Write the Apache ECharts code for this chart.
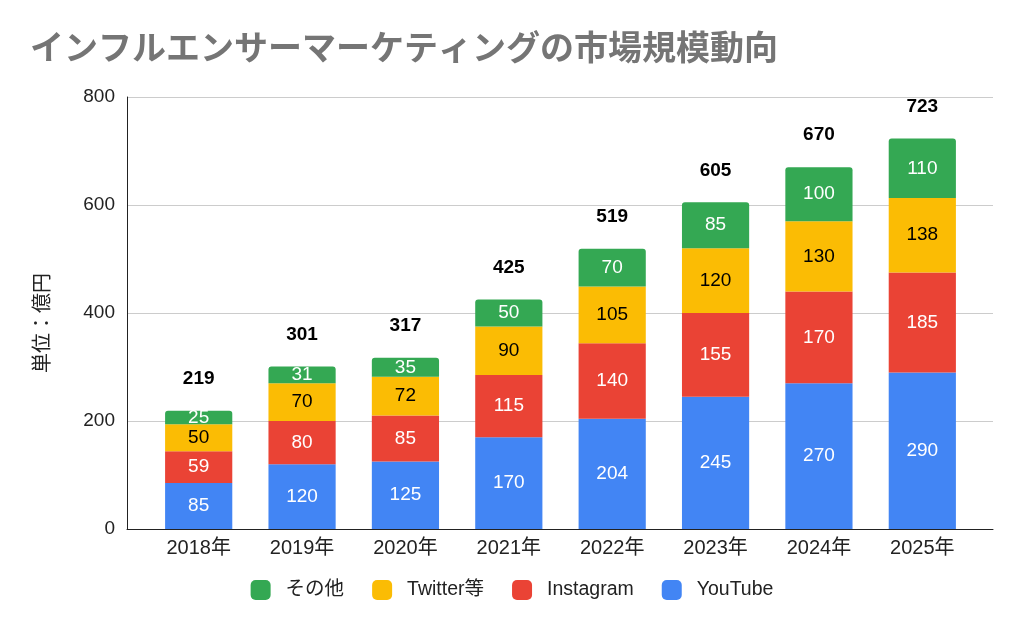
<!DOCTYPE html>
<html>
<head>
<meta charset="utf-8">
<script src="https://cdn.jsdelivr.net/npm/echarts@6/dist/echarts.min.js"></script>
<style>
  html, body { margin: 0; padding: 0; background: #fff; }
  #chart { width: 1024px; height: 633px; }
</style>
</head>
<body>
<div id="chart"></div>
<script>
  const years = ['2018年', '2019年', '2020年', '2021年', '2022年', '2023年', '2024年', '2025年'];
  const youtube = [85, 120, 125, 170, 204, 245, 270, 290];
  const instagram = [59, 80, 85, 115, 140, 155, 170, 185];
  const twitter = [50, 70, 72, 90, 105, 120, 130, 138];
  const others = [25, 31, 35, 50, 70, 85, 100, 110];
  const totals = [219, 301, 317, 425, 519, 605, 670, 723];
  const yTicks = { min: 0, max: 800, interval: 200 };

  const font = '"Liberation Sans", Arial, "Noto Sans CJK JP", sans-serif';
  const jpFont = '"Noto Sans CJK JP", sans-serif';

  // one stacked bar layer
  function layer(name, data, color, textColor, rounded) {
    return {
      name: name,
      type: 'bar',
      stack: 'total',
      data: data,
      barCategoryGap: '35%',
      itemStyle: { color: color, borderRadius: rounded ? [3, 3, 0, 0] : 0 },
      label: {
        show: true,
        position: 'inside',
        color: textColor,
        fontSize: 19,
        fontFamily: font
      }
    };
  }

  const chart = echarts.init(document.getElementById('chart'));
  chart.setOption({
    animation: false,
    title: {
      text: 'インフルエンサーマーケティングの市場規模動向',
      left: 25,
      top: 25,
      textStyle: {
        color: '#757575',
        fontSize: 34,
        fontWeight: 'bold',
        fontFamily: jpFont
      }
    },
    legend: {
      bottom: 28,
      left: 'center',
      itemWidth: 20,
      itemHeight: 20,
      itemGap: 28,
      icon: 'roundRect',
      data: ['その他', 'Twitter等', 'Instagram', 'YouTube'],
      textStyle: { color: '#222', fontSize: 19.5, fontFamily: font, padding: [0, 0, 0, 10] }
    },
    // grid 0: bars, inset like the original; grid 1: frame, gridlines, y labels
    grid: [
      { left: 147, right: 50, top: 97, bottom: 104 },
      { left: 127, right: 31, top: 97, bottom: 104 }
    ],
    xAxis: [
      {
        type: 'category',
        gridIndex: 0,
        data: years,
        axisLine: { show: false },
        axisTick: { show: false },
        axisLabel: { color: '#222', fontSize: 20, fontFamily: font, margin: 9 }
      },
      {
        type: 'category',
        gridIndex: 1,
        data: years,
        axisLine: { lineStyle: { color: '#222', width: 1 } },
        axisTick: { show: false },
        axisLabel: { show: false }
      }
    ],
    yAxis: [
      {
        type: 'value',
        gridIndex: 0,
        min: yTicks.min,
        max: yTicks.max,
        interval: yTicks.interval,
        show: false
      },
      {
        type: 'value',
        gridIndex: 1,
        min: yTicks.min,
        max: yTicks.max,
        interval: yTicks.interval,
        name: '単位：億円',
        nameLocation: 'middle',
        nameGap: 76,
        nameTextStyle: { color: '#222', fontSize: 20, fontFamily: jpFont, padding: [0, 20, 0, 0] },
        axisLine: { show: true, lineStyle: { color: '#222', width: 1 } },
        axisTick: { show: false },
        axisLabel: { color: '#222', fontSize: 19, fontFamily: font, margin: 12 },
        splitLine: { lineStyle: { color: '#cccccc' } }
      }
    ],
    series: [
      layer('YouTube', youtube, '#4285F4', '#fff', false),
      layer('Instagram', instagram, '#EA4335', '#fff', false),
      layer('Twitter等', twitter, '#FBBC04', '#000', false),
      layer('その他', others, '#34A853', '#fff', true),
      {
        name: '合計',
        type: 'line',
        data: totals,
        symbol: 'circle',
        symbolSize: 1,
        showSymbol: true,
        itemStyle: { color: 'rgba(0,0,0,0)' },
        lineStyle: { opacity: 0 },
        silent: true,
        label: {
          show: true,
          position: 'top',
          distance: 22,
          color: '#000',
          fontSize: 19,
          fontWeight: 'bold',
          fontFamily: font
        }
      }
    ]
  });
</script>
</body>
</html>
